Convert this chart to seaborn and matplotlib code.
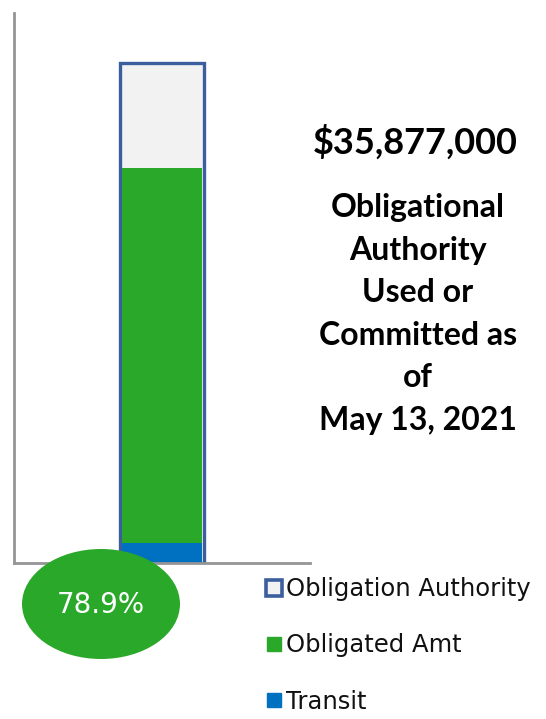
import numpy as np
import pandas as pd
import matplotlib as mpl
mpl.use("Agg")
from matplotlib import pyplot as plt
from matplotlib.patches import Ellipse
from matplotlib.lines import Line2D
import seaborn as sns

series = ["Obligation Authority", "Obligated Amt", "Transit"]
amounts = [45_470_000, 35_877_000, 1_800_000]
colors = ["#F2F2F2", "#29A829", "#0070C0"]
outline = "#3B5E9E"
as_of = "May 13, 2021"

sns.set_style("white")

fig = plt.figure(figsize=(5.46, 7.19), dpi=100)
ax = fig.add_axes([14/546, 1 - 563/719, 296/546, 550/719])

cat = ["OA"]
# full authority: grey fill with blue outline
sns.barplot(x=cat, y=[amounts[0]], color=colors[0], width=0.285,
            edgecolor=outline, linewidth=2.4, saturation=1, ax=ax)
# obligated and transit drawn on top, just inside the outline
sns.barplot(x=cat, y=[amounts[1]], color=colors[1], width=0.27,
            saturation=1, linewidth=0, ax=ax)
sns.barplot(x=cat, y=[amounts[2]], color=colors[2], width=0.27,
            saturation=1, linewidth=0, ax=ax)

ax.set_ylim(0, 50_000_000)
ax.set_xlim(-0.5, 0.5)
ax.set(xlabel="", ylabel="", xticks=[], yticks=[])
sns.despine(ax=ax)
for s in ["left", "bottom"]:
    ax.spines[s].set_color("#959595")
    ax.spines[s].set_linewidth(2)

# percent bubble
pct = amounts[1] / amounts[0]
ell = Ellipse((101/546, 1 - 604/719), 158/546, 110/719, transform=fig.transFigure,
              facecolor=colors[1], edgecolor="none")
fig.add_artist(ell)
fig.text(101/546, 1 - 605/719, f"{pct:.1%}", color="white", fontsize=20,
         ha="center", va="center", family="DejaVu Sans")

# big caption on the right
fig.text(415/546, 1 - 142/719, f"${amounts[1]:,}", fontsize=26, fontweight="bold",
         family="Lato", ha="center", va="center", color="black")
fig.text(418/546, 1 - 314/719,
         "Obligational\nAuthority\nUsed or\nCommitted as\nof\n" + as_of,
         fontsize=23, fontweight="bold", family="Lato", ha="center", va="center",
         multialignment="center", linespacing=1.56, color="black")

# legend
handles = [
    Line2D([], [], marker="s", linestyle="none", markersize=11, markerfacecolor=colors[0],
           markeredgecolor=outline, markeredgewidth=2.6),
    Line2D([], [], marker="s", linestyle="none", markersize=10, color=colors[1]),
    Line2D([], [], marker="s", linestyle="none", markersize=10, color=colors[2]),
]
leg = fig.legend(handles, series, loc="upper left", bbox_to_anchor=(254/546, 1 - 565/719),
                 frameon=False, prop={"family": "DejaVu Sans", "size": 17.5},
                 handlelength=0.65, handletextpad=0.15, labelspacing=1.33, borderpad=0)
for t in leg.get_texts():
    t.set_color("#111111")

fig.savefig("out.png", dpi=100)
